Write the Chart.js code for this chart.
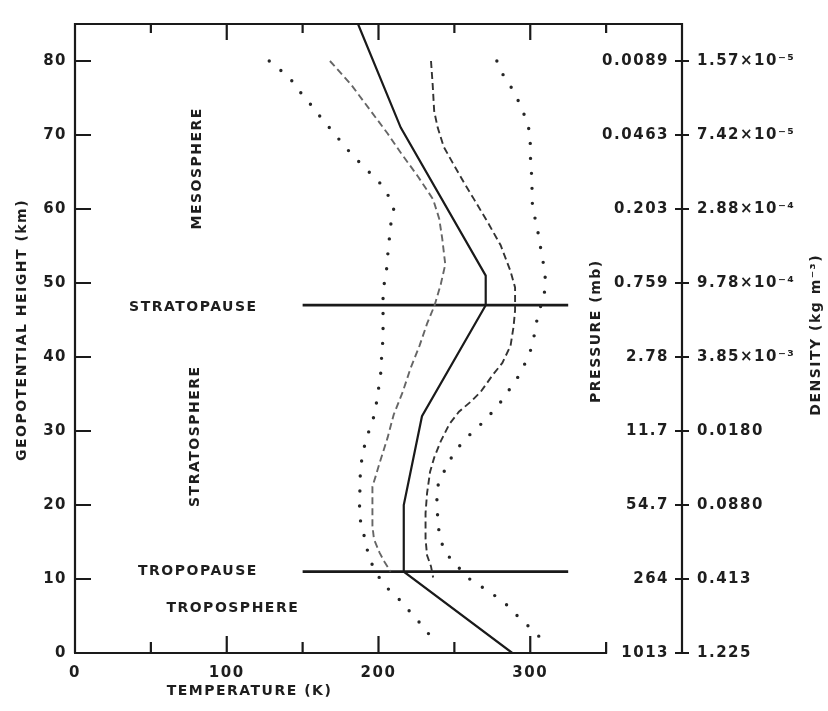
<!DOCTYPE html>
<html><head><meta charset="utf-8">
<script src="https://cdn.jsdelivr.net/npm/chart.js@4"></script>
<style>html,body{margin:0;padding:0;background:#fff;} canvas{display:block;}</style>
</head><body>
<canvas id="c" width="828" height="711"></canvas>
<script>
// ---------- data ----------
const heightTicks = [0, 10, 20, 30, 40, 50, 60, 70, 80];
const tempTicks = [0, 100, 200, 300];
const pressureLabels = ['1013', '264', '54.7', '11.7', '2.78', '0.759', '0.203', '0.0463', '0.0089'];
const densityLabels = ['1.225', '0.413', '0.0880', '0.0180', '3.85×10⁻³', '9.78×10⁻⁴', '2.88×10⁻⁴', '7.42×10⁻⁵', '1.57×10⁻⁵'];

// standard atmosphere (solid)
const stdHeight = [0, 11, 20, 32, 47, 51, 71, 85];
const stdTemp = [288.15, 216.65, 216.65, 228.65, 270.65, 270.65, 214.65, 186.5];

// outer left (dotted)
const minHeight = [80, 78.5, 77.3, 75.9, 74.6, 73, 70.4, 67.7, 66.4, 63.6, 62, 60, 57.8, 53.6, 51, 49.2, 47, 44.6, 42.4, 40.4, 38.6, 34.2, 32, 30.2, 28.2, 26.2, 24.2, 20, 18, 16.3, 14.6, 13, 11, 9.4, 8.1, 6.8, 5.5, 3.9, 2.6, 1.3];
const minTemp = [128, 137, 143, 148, 153.5, 159.5, 170, 181, 187, 200.6, 206, 210, 208, 206, 205, 203, 203, 203, 203, 202, 202, 199, 197, 194, 191, 189, 188, 187.5, 188, 190, 192, 193.5, 198, 203, 209, 216, 221, 228, 233, 226];

// inner left (dashed)
const lowHeight = [80, 76.8, 73.5, 70.2, 67.5, 64.4, 61.3, 58.7, 56, 52.5, 49.8, 47, 44.5, 41.5, 38.4, 35.3, 32.2, 29.1, 25.6, 23.8, 22.5, 19.9, 17.2, 15.4, 13.6, 12.3, 11];
const lowTemp = [168, 182, 194, 206, 215, 226, 236, 240, 242, 244, 241, 237, 232, 227, 221, 216, 210, 206, 200.6, 198, 196, 196, 196, 197, 200.6, 204, 208];

// inner right (dashed)
const highHeight = [80, 76.8, 73.2, 71, 68.4, 66.2, 63.5, 61.3, 58.2, 55.1, 51.6, 49.4, 46.3, 44.1, 41.5, 39.2, 37.5, 35.3, 34, 32.6, 30.9, 28.6, 26.4, 24.5, 21.6, 18.9, 15.4, 13.2, 11.7, 10.2];
const highTemp = [234.6, 235.7, 236.7, 239, 243, 249, 256.5, 263, 272, 280.5, 287, 290, 290, 289, 287, 281.6, 275, 267.4, 261, 253, 246.6, 241, 236.7, 234, 232, 231, 231, 232, 234.6, 236];

// outer right (dotted)
const maxHeight = [80, 78.3, 76.8, 74.9, 73, 71.3, 69.3, 67.4, 64.2, 60.7, 57.8, 56.3, 54.5, 52.7, 50.5, 48.6, 45.2, 43.4, 41.5, 39.6, 37.6, 36.2, 34.5, 33, 31.5, 30.1, 28.7, 27.4, 25.7, 24, 22.3, 20.4, 18.3, 16.1, 14, 12.3, 11.1, 9.8, 8.7, 7.7, 6.6, 5.3, 4.1, 2.7, 1.4];
const maxTemp = [278, 281.6, 286.5, 291.5, 295.5, 298.7, 300, 300, 301, 301.4, 304, 305.7, 307, 308.6, 310, 309.3, 304.6, 303, 301.4, 297.6, 293, 288, 283, 276.6, 270.7, 263, 256.4, 251, 246, 242, 238.5, 238.5, 239, 240, 243, 249, 255, 261, 270, 277, 284, 290, 296.5, 303, 311];

// layer boundaries
const stratopauseHeight = 47;
const tropopauseHeight = 11;
const boundaryTemps = [150, 325];

// ---------- chart ----------
const INK = '#1a1a1a';
const TXT = '#1e1e1e';
const pts = (t, h) => t.map((v, i) => ({x: v, y: h[i]}));

Chart.defaults.font.family = '"DejaVu Sans", sans-serif';
Chart.defaults.font.size = 15;
Chart.defaults.color = TXT;

const dotted = {borderDash: [0, 15], borderCapStyle: 'round', borderWidth: 3.4, borderColor: '#262626'};
const dashed = {borderDash: [7, 4], borderCapStyle: 'butt', borderWidth: 1.9};

const datasets = [
  {data: pts(stdTemp, stdHeight), borderColor: INK, borderWidth: 2.2},
  Object.assign({data: pts(minTemp, minHeight)}, dotted),
  Object.assign({data: pts(maxTemp, maxHeight)}, dotted),
  Object.assign({data: pts(lowTemp, lowHeight), borderColor: '#666'}, dashed),
  Object.assign({data: pts(highTemp, highHeight), borderColor: '#333'}, dashed),
  {data: boundaryTemps.map(t => ({x: t, y: stratopauseHeight})), borderColor: INK, borderWidth: 2.8},
  {data: boundaryTemps.map(t => ({x: t, y: tropopauseHeight})), borderColor: INK, borderWidth: 2.8},
].map(d => Object.assign({showLine: true, pointRadius: 0, fill: false, tension: 0}, d));

function label(ctx, text, cx, cy, rotate) {
  ctx.save();
  ctx.translate(cx, cy);
  if (rotate) ctx.rotate(-Math.PI / 2);
  ctx.fillText(text, 0, 0);
  ctx.restore();
}

const framePlugin = {
  id: 'frame',
  beforeDraw(chart) { chart.ctx.letterSpacing = '1.5px'; },
  afterDatasetsDraw(chart) {
    const {ctx, scales: {x, y}} = chart;
    const L = x.getPixelForValue(0), R = x.getPixelForValue(400);
    const B = y.getPixelForValue(0), T = y.getPixelForValue(85);
    const xEnd = x.getPixelForValue(350);
    ctx.save();
    ctx.strokeStyle = INK; ctx.lineWidth = 2.2; ctx.lineCap = 'butt'; ctx.setLineDash([]);
    ctx.beginPath();
    ctx.moveTo(L, B); ctx.lineTo(L, T); ctx.lineTo(R, T); ctx.lineTo(R, B);
    ctx.moveTo(L - 1, B); ctx.lineTo(xEnd + 1, B);
    for (let v = 50; v <= 350; v += 50) {
      const px = x.getPixelForValue(v);
      const major = v % 100 === 0;
      ctx.moveTo(px, B); ctx.lineTo(px, B - (major ? 17 : 11));
      ctx.moveTo(px, T); ctx.lineTo(px, T + (major ? 16 : 9));
    }
    heightTicks.forEach(h => {
      const py = y.getPixelForValue(h);
      if (h > 0) { ctx.moveTo(L, py); ctx.lineTo(L + 16, py); }
      ctx.moveTo(R - 7, py); ctx.lineTo(R + 7, py);
    });
    ctx.stroke();

    ctx.fillStyle = TXT;
    ctx.font = 'bold 14px "DejaVu Sans", sans-serif';
    ctx.letterSpacing = '1.5px';
    ctx.textAlign = 'center'; ctx.textBaseline = 'middle';
    // axis titles
    label(ctx, 'GEOPOTENTIAL HEIGHT (km)', 22, 330, true);
    label(ctx, 'TEMPERATURE (K)', x.getPixelForValue(115), 691, false);
    label(ctx, 'PRESSURE (mb)', 596, y.getPixelForValue(43.5), true);
    label(ctx, 'DENSITY (kg m⁻³)', 816, y.getPixelForValue(43), true);
    // layer names
    label(ctx, 'MESOSPHERE', x.getPixelForValue(80.5), y.getPixelForValue(65.5), true);
    label(ctx, 'STRATOPAUSE', x.getPixelForValue(78), y.getPixelForValue(46.7), false);
    label(ctx, 'STRATOSPHERE', x.getPixelForValue(79), y.getPixelForValue(29.3), true);
    label(ctx, 'TROPOPAUSE', x.getPixelForValue(81), y.getPixelForValue(11.1), false);
    label(ctx, 'TROPOSPHERE', x.getPixelForValue(104), y.getPixelForValue(6.1), false);
    ctx.restore();
  }
};

const hideGrid = {display: false, drawTicks: false};
const yCommon = {type: 'linear', min: 0, max: 85, grid: hideGrid, border: {display: false}};
const tickFont = {size: 15, weight: 'bold'};

new Chart(document.getElementById('c'), {
  type: 'scatter',
  data: {datasets},
  options: {
    responsive: false, animation: false, devicePixelRatio: 1,
    layout: {padding: {top: 11, left: 0, right: 0, bottom: 0}},
    plugins: {legend: {display: false}, tooltip: {enabled: false}},
    scales: {
      x: {type: 'linear', position: 'bottom', min: 0, max: 400, grid: hideGrid, border: {display: false},
          ticks: {stepSize: 100, autoSkip: false, maxRotation: 0, padding: 11, font: tickFont,
                  callback: v => tempTicks.includes(v) ? String(v) : ''},
          afterFit: s => { s.height = 58; }},
      y: Object.assign({}, yCommon, {position: 'left',
          ticks: {stepSize: 10, autoSkip: false, padding: 8, font: tickFont,
                  callback: v => heightTicks.includes(v) ? String(v) : ''},
          afterFit: s => { s.width = 75; }}),
      yP: Object.assign({}, yCommon, {position: 'right', weight: 0,
          ticks: {stepSize: 10, autoSkip: false, mirror: true, padding: -13, font: tickFont,
                  callback: v => { const i = heightTicks.indexOf(v); return i >= 0 ? pressureLabels[i] : ''; }},
          afterFit: s => { s.width = 0; }}),
      yD: Object.assign({}, yCommon, {position: 'right', weight: 1,
          ticks: {stepSize: 10, autoSkip: false, padding: 15, font: tickFont,
                  callback: v => { const i = heightTicks.indexOf(v); return i >= 0 ? densityLabels[i] : ''; }},
          afterFit: s => { s.width = 146; }}),
    }
  },
  plugins: [framePlugin]
});
</script>
</body></html>
